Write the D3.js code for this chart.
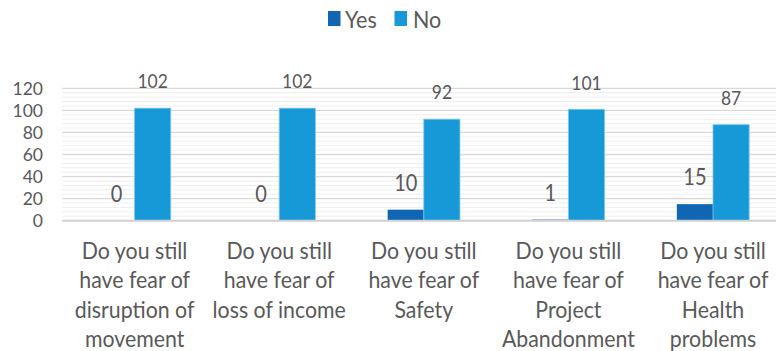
<!DOCTYPE html>
<html>
<head>
<meta charset="utf-8">
<script src="https://cdn.jsdelivr.net/npm/d3@7/dist/d3.min.js"></script>
<style>
  html, body { margin: 0; padding: 0; background: #ffffff; }
  svg { display: block; }
  text { font-family: Lato, "Open Sans", sans-serif; fill: #595959; }
</style>
</head>
<body>
<svg id="chart" width="776" height="351"></svg>
<script>
// Survey answers per question
const categories = [
  ["Do you still", "have fear of", "disruption of", "movement"],
  ["Do you still", "have fear of", "loss of income"],
  ["Do you still", "have fear of", "Safety"],
  ["Do you still", "have fear of", "Project", "Abandonment"],
  ["Do you still", "have fear of", "Health", "problems"]
];
const seriesNames = ["Yes", "No"];
const yesValues = [0, 0, 10, 1, 15];
const noValues = [102, 102, 92, 101, 87];
const yTicks = [0, 20, 40, 60, 80, 100, 120];

const colors = { Yes: "#1166B3", No: "#1699D6" };

const svg = d3.select("#chart");
const W = 776, H = 351;
const TALL = 1.15; // text is drawn slightly elongated vertically

const plot = { left: 62.3, right: 785.3, top: 88.3, bottom: 220.7 };

const x = d3.scaleBand()
  .domain(d3.range(categories.length))
  .range([plot.left, plot.right])
  .paddingInner(0).paddingOuter(0);

const xs = d3.scaleBand()
  .domain(seriesNames)
  .range([0, x.bandwidth()])
  .paddingInner(0).paddingOuter(1);

const y = d3.scaleLinear().domain([0, 120]).range([plot.bottom, plot.top]);

// minor gridlines
const minorTicks = d3.range(0, 121, 4).filter(v => v % 20 !== 0);
svg.append("g").selectAll("line").data(minorTicks).join("line")
  .attr("x1", plot.left).attr("x2", W)
  .attr("y1", d => y(d)).attr("y2", d => y(d))
  .attr("stroke", "#efefef").attr("stroke-width", 1);

// major gridlines
svg.append("g").selectAll("line").data(yTicks.filter(v => v > 0)).join("line")
  .attr("x1", plot.left).attr("x2", W)
  .attr("y1", d => y(d)).attr("y2", d => y(d))
  .attr("stroke", "#d9d9d9").attr("stroke-width", 1.3);

// y axis labels
const yAxis = d3.axisLeft(y).tickValues(yTicks).tickSize(0).tickPadding(0);
const gy = svg.append("g").attr("transform", `translate(43,0)`).call(yAxis);
gy.select(".domain").remove();
gy.selectAll("text")
  .attr("x", null).attr("dy", "0.35em")
  .style("font-size", "17.5px")
  .style("fill", "#595959")
  .style("font-family", "Lato, 'Open Sans', sans-serif");

// bars
const rows = categories.map((c, i) => ({ i, Yes: yesValues[i], No: noValues[i] }));
const groups = svg.append("g").selectAll("g").data(rows).join("g")
  .attr("transform", d => `translate(${x(d.i)},0)`);

groups.selectAll("rect").data(d => seriesNames.map(s => ({ s, v: d[s] }))).join("rect")
  .attr("x", d => xs(d.s))
  .attr("width", xs.bandwidth())
  .attr("y", d => y(d.v))
  .attr("height", d => y(0) - y(d.v))
  .attr("fill", d => colors[d.s])
  .attr("stroke", d => d.s === "No" ? "#7cc9ee" : "none")
  .attr("stroke-width", 0.8);

// value labels
groups.selectAll("text.val").data(d => seriesNames.map(s => ({ s, v: d[s] }))).join("text")
  .attr("class", "val")
  .attr("transform", d => `translate(${xs(d.s) + xs.bandwidth() / 2},${y(d.v) - 27}) scale(1,${TALL})`)
  .attr("text-anchor", "middle")
  .attr("dy", "0.36em")
  .style("font-size", d => d.s === "Yes" ? "20px" : "17.5px")
  .text(d => d.v);

// baseline axis
svg.append("line")
  .attr("x1", plot.left).attr("x2", W)
  .attr("y1", y(0)).attr("y2", y(0))
  .attr("stroke", "#d0d0d0").attr("stroke-width", 2);

// category labels
const cat = svg.append("g").selectAll("text").data(categories).join("text")
  .attr("text-anchor", "middle")
  .attr("transform", (d, i) => `translate(${x(i) + x.bandwidth() / 2},259) scale(1.04,${TALL})`)
  .style("font-size", "20.5px");
cat.selectAll("tspan").data(d => d).join("tspan")
  .attr("x", 0)
  .attr("y", (d, j) => j * 29.3 / TALL)
  .text(d => d);

// legend
const legend = svg.append("g");
const legendItems = [
  { s: "Yes", sx: 328, tx: 345 },
  { s: "No", sx: 394.5, tx: 413 }
];
legend.selectAll("rect").data(legendItems).join("rect")
  .attr("x", d => d.sx).attr("y", 11)
  .attr("width", 12.5).attr("height", 15)
  .attr("fill", d => colors[d.s]);
legend.selectAll("text").data(legendItems).join("text")
  .attr("transform", d => `translate(${d.tx},19) scale(1.05,${TALL})`)
  .attr("dy", "0.36em")
  .style("font-size", "20.5px")
  .text(d => d.s);
</script>
</body>
</html>
